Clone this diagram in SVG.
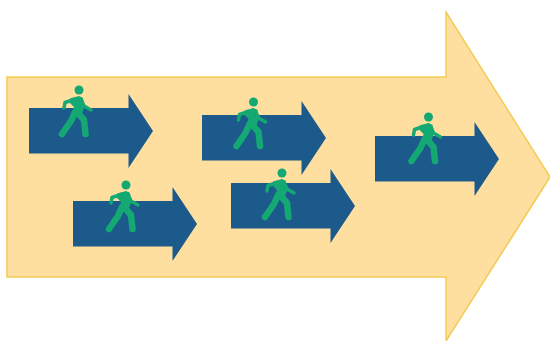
<svg xmlns="http://www.w3.org/2000/svg" width="550" height="341" viewBox="0 0 550 341">
<style>
.big{fill:#fedf9f;stroke:#f3cb55;stroke-width:1.5}
.arr{fill:#1c5a8c}
.w{fill:none;stroke:#14a873;stroke-linecap:round;stroke-linejoin:round}
.h{fill:#14a873}
</style>
<defs>
<path id="arrow" class="arr" d="M0 14H99.500V0L124 37L99.500 74V59.500H0Z"/>
<g id="walker">
<circle class="h" cx="0" cy="0" r="4.500"/>
<path class="h" d="M-9 8.500L0 6L4 8L5 18L2 26L-7 26L-5 17L-9 13Z"/>
<path class="w" stroke-width="6.500" d="M-4 22L-8 31L-17 44M-2 22L5 30L6.500 44"/>
<path class="w" stroke-width="3.500" d="M-5 9.500L-14 12.500L-15 18M2 9L5 16L12 20"/>
</g>
</defs>
<g id="big-arrow"><path class="big" d="M7 77H446V12L550 177L446 341V277H7Z"/></g>
<g id="arrow-1"><use href="#arrow" x="29" y="94"/><use href="#walker" x="79" y="90"/></g>
<g id="arrow-2"><use href="#arrow" x="73" y="187"/><use href="#walker" x="126" y="185"/></g>
<g id="arrow-3"><use href="#arrow" x="202" y="101"/><use href="#walker" x="253.500" y="102"/></g>
<g id="arrow-4"><use href="#arrow" x="231" y="169"/><use href="#walker" x="282" y="173"/></g>
<g id="arrow-5"><use href="#arrow" x="375" y="122"/><use href="#walker" x="428.500" y="117"/></g>
<g id="connectors"/>
</svg>
